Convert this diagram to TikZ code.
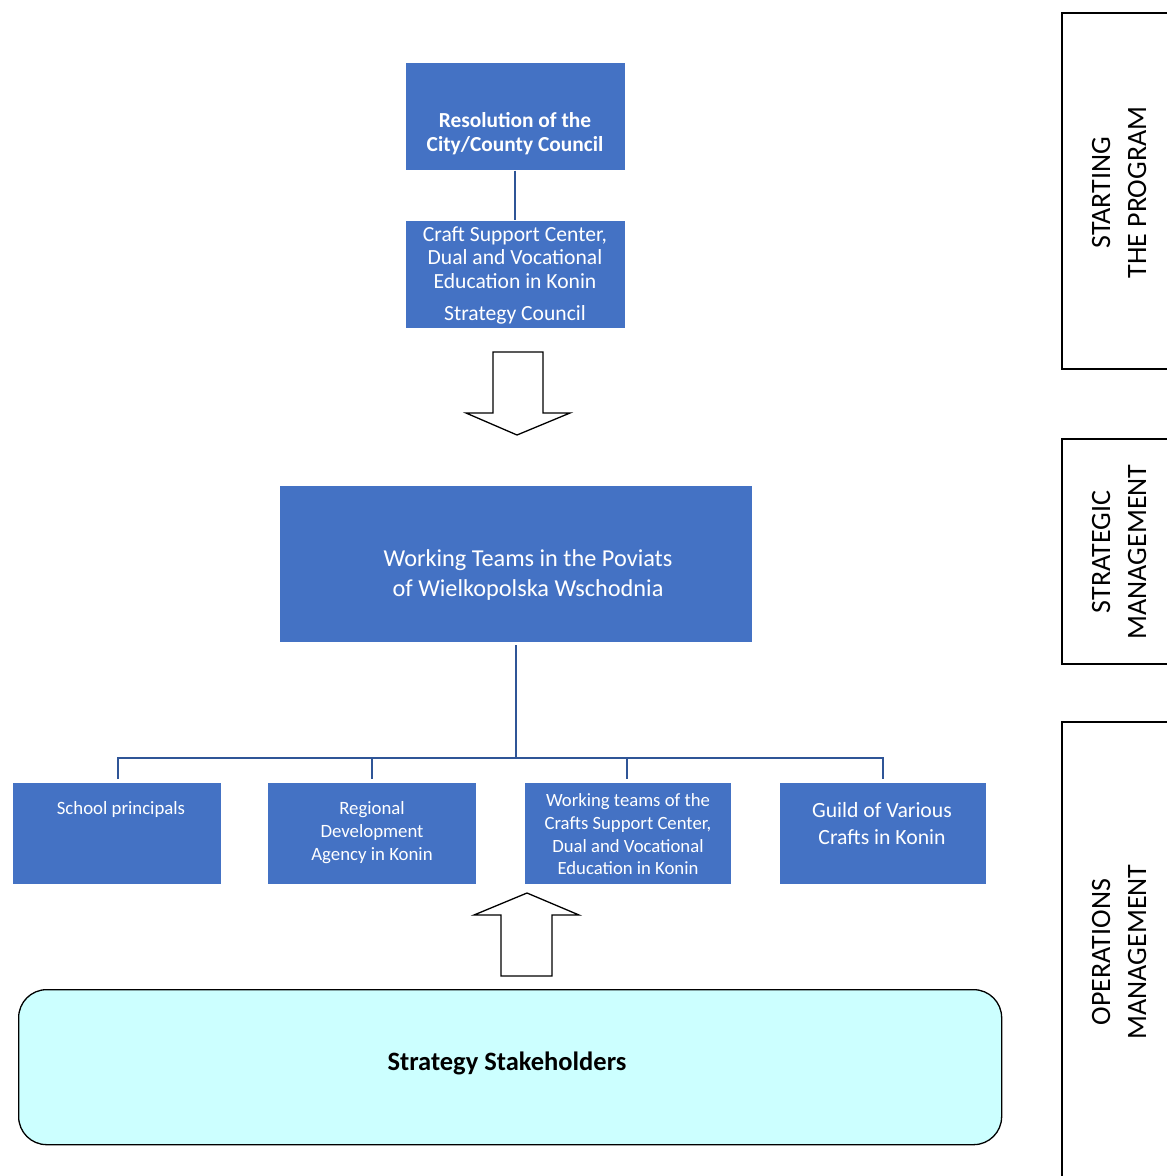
\documentclass[tikz,border=0pt]{standalone}
\usepackage{fontspec}
\setmainfont{Carlito}
\definecolor{boxblue}{HTML}{4472C4}
\definecolor{linkblue}{HTML}{2F5597}
\definecolor{stakefill}{HTML}{CCFFFF}
\begin{document}
\begin{tikzpicture}[x=1pt,y=-1pt,
  bluebox/.style={fill=boxblue,draw=white,line width=0.6pt,inner sep=0pt,anchor=north west},
  boxtext/.style={text=white,align=center,inner sep=0pt,anchor=center},
  link/.style={draw=linkblue,line width=2pt},
  blockarrow/.style={draw=black,fill=white,line width=1.3pt,line join=miter},
  panel/.style={draw=black,line width=1.3pt},
  paneltext/.style={rotate=90,align=center,inner sep=0pt,font=\fontsize{28}{36}\selectfont}]
\useasboundingbox (0,0) rectangle (1167,1176);
% top boxes
\node[bluebox,minimum width=220pt,minimum height=108pt] (res) at (405,62) {};
\node[boxtext,font=\bfseries\fontsize{21.4}{24}\selectfont] (restext) at (515,134) {Resolution of the\\City/County Council};
\node[bluebox,minimum width=220pt,minimum height=108pt] (craft) at (405,220) {};
\node[boxtext,font=\fontsize{21.6}{23.5}\selectfont] (crafttext) at (515,257.5) {Craft Support Center,\\Dual and Vocational\\Education in Konin};
\node[boxtext,font=\fontsize{21.6}{23.5}\selectfont] (stratc) at (515,315) {Strategy Council};
\draw[link] (res.south) -- (craft.north);
% down block arrow
\draw[blockarrow] (493,352) -- (543,352) -- (543,413) -- (570,413) -- (517,435) -- (466,413) -- (493,413) -- cycle;
% working teams
\node[bluebox,minimum width=473pt,minimum height=157pt] (wt) at (279,485) {};
\node[boxtext,font=\fontsize{24.3}{30}\selectfont] (wttext) at (528,575) {Working Teams in the Poviats\\of Wielkopolska Wschodnia};
% bottom boxes
\node[bluebox,minimum width=209pt,minimum height=102pt] (sp) at (12,782) {};
\node[bluebox,minimum width=209pt,minimum height=102pt] (rda) at (267,782) {};
\node[bluebox,minimum width=207pt,minimum height=102pt] (wtc) at (524,782) {};
\node[bluebox,minimum width=207pt,minimum height=102pt] (guild) at (779,782) {};
\node[boxtext,font=\fontsize{18.8}{23}\selectfont] (sptext) at (121,809) {School principals};
\node[boxtext,font=\fontsize{18.8}{23}\selectfont] (rdatext) at (372,833) {Regional\\Development\\Agency in Konin};
\node[boxtext,font=\fontsize{18.7}{22.7}\selectfont] (wtctext) at (628,834.5) {Working teams of the\\Crafts Support Center,\\Dual and Vocational\\Education in Konin};
\node[boxtext,font=\fontsize{21.7}{27}\selectfont] (guildtext) at (882,824) {Guild of Various\\Crafts in Konin};
% tree connectors
\coordinate (hub) at (516,758);
\draw[link] (516,645) -- (hub);
\draw[link] (118,779) -- (118,758) -- (883,758) -- (883,779);
\draw[link] (372,758) -- (372,779);
\draw[link] (627,758) -- (627,779);
% up block arrow
\draw[blockarrow] (501,976) -- (552,976) -- (552,915) -- (579,915) -- (527,893) -- (474,915) -- (501,915) -- cycle;
% stakeholders
\node[draw=black,line width=1.3pt,fill=stakefill,rounded corners=28pt,minimum width=983pt,minimum height=155pt,anchor=north west,inner sep=0pt] (stake) at (18,989) {};
\node[font=\bfseries\fontsize{26.5}{30}\selectfont,inner sep=0pt] (staketext) at (507,1063) {Strategy Stakeholders};
% right panels
\draw[panel] (1170,13) -- (1062,13) -- (1062,369) -- (1170,369);
\node[paneltext] (p1) at (1119,192.5) {STARTING\\THE PROGRAM};
\draw[panel] (1170,439) -- (1062,439) -- (1062,664) -- (1170,664);
\node[paneltext] (p2) at (1119,552) {STRATEGIC\\MANAGEMENT};
\draw[panel] (1062,1180) -- (1062,722) -- (1170,722);
\node[paneltext] (p3) at (1119,952) {OPERATIONS\\MANAGEMENT};
\end{tikzpicture}
\end{document}
